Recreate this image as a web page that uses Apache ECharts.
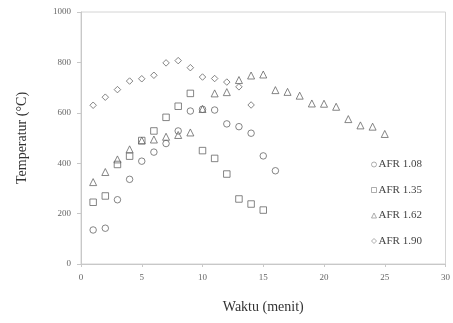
<!DOCTYPE html>
<html>
<head>
<meta charset="utf-8">
<script src="https://cdn.jsdelivr.net/npm/echarts@6/dist/echarts.min.js"></script>
<style>
  html, body { margin: 0; padding: 0; background: #fff; }
  #chart { width: 453px; height: 323px; }
</style>
</head>
<body>
<div id="chart"></div>
<script>
// waktu (menit) vs temperatur, per AFR
var afr108 = [[1,135],[2,142],[3,255],[4,336],[5,408],[6,444],[7,478],[8,528],[9,607],[10,614],[11,611],[12,556],[13,545],[14,519],[15,429],[16,370]];
var afr135 = [[1,245],[2,270],[3,395],[4,428],[5,490],[6,528],[7,582],[8,626],[9,677],[10,450],[11,419],[12,357],[13,258],[14,238],[15,214]];
var afr162 = [[1,325],[2,365],[3,415],[4,455],[5,490],[6,494],[7,505],[8,512],[9,522],[10,615],[11,677],[12,682],[13,730],[14,748],[15,752],[16,690],[17,683],[18,668],[19,637],[20,636],[21,624],[22,575],[23,550],[24,545],[25,516]];
var afr190 = [[1,630],[2,662],[3,692],[4,726],[5,735],[6,749],[7,798],[8,807],[9,779],[10,742],[11,736],[12,722],[13,703],[14,631]];

var seriesNames = ['AFR 1.08', 'AFR 1.35', 'AFR 1.62', 'AFR 1.90'];
var seriesData = [afr108, afr135, afr162, afr190];
var symbols = ['circle', 'rect', 'triangle', 'diamond'];
var symbolSizes = [6.5, 6.5, 7, 6.5];

var serif = '"Liberation Serif", "DejaVu Serif", serif';

var chart = echarts.init(document.getElementById('chart'));

var series = seriesNames.map(function (name, i) {
    return {
        name: name,
        type: 'scatter',
        data: seriesData[i],
        symbol: symbols[i],
        symbolSize: symbolSizes[i],
        itemStyle: {
            color: 'rgba(255,255,255,0)',
            borderColor: '#666',
            borderWidth: 1
        }
    };
});

chart.setOption({
    animation: false,
    backgroundColor: '#fff',
    grid: { left: 81, right: 4, top: 12, bottom: 59, show: true, borderColor: '#d4d4d4', borderWidth: 1 },
    legend: {
        orient: 'vertical',
        left: 366,
        top: 154,
        itemGap: 14.5,
        itemWidth: 5,
        itemHeight: 5,
        data: seriesNames.map(function (n, i) {
            return { name: n, icon: symbols[i] };
        }),
        textStyle: { fontFamily: serif, fontSize: 11, color: '#444', padding: [0, 0, 0, -3] },
        itemStyle: { color: 'rgba(255,255,255,0)', borderColor: '#999', borderWidth: 1 }
    },
    xAxis: {
        type: 'value',
        min: 0, max: 30, interval: 5,
        name: 'Waktu (menit)',
        nameLocation: 'middle',
        nameGap: 36,
        nameTextStyle: { fontFamily: serif, fontSize: 14, color: '#333' },
        axisLine: { lineStyle: { color: '#c8c8c8' } },
        axisTick: { show: true, length: 3, lineStyle: { color: '#c8c8c8' } },
        axisLabel: { fontFamily: serif, fontSize: 9, color: '#666', margin: 9 },
        splitLine: { show: false }
    },
    yAxis: {
        type: 'value',
        min: 0, max: 1000, interval: 200,
        name: 'Temperatur (°C)',
        nameLocation: 'middle',
        nameGap: 52,
        nameTextStyle: { fontFamily: serif, fontSize: 14, color: '#333' },
        axisLine: { show: true, lineStyle: { color: '#c8c8c8' } },
        axisTick: { show: true, length: 4, lineStyle: { color: '#c8c8c8' } },
        axisLabel: { fontFamily: serif, fontSize: 9, color: '#666', margin: 10, formatter: function (v) { return String(v); } },
        splitLine: { show: false }
    },
    series: series
});
</script>
</body>
</html>
